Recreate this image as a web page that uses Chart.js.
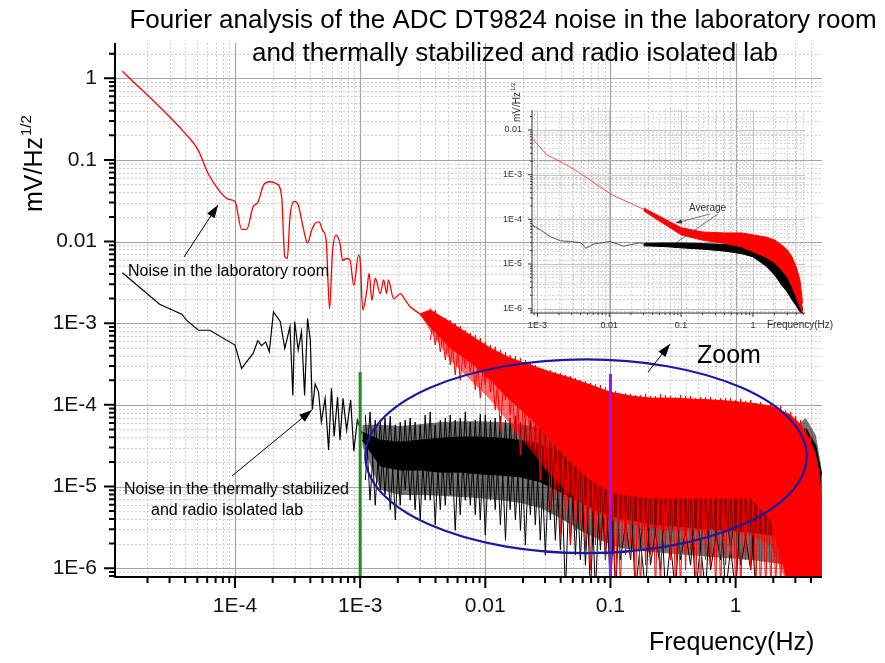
<!DOCTYPE html>
<html>
<head>
<meta charset="utf-8">
<script src="https://cdn.jsdelivr.net/npm/chart.js@4.4.1/dist/chart.umd.min.js"></script>
<style>
  html, body { margin: 0; padding: 0; background: #fff; }
  #wrap { position: relative; width: 885px; height: 663px; }
  #main { position: absolute; left: 0; top: 0; }
  #inset { position: absolute; left: 490px; top: 70px; }
</style>
</head>
<body>
<div id="wrap">
  <canvas id="main" width="885" height="663"></canvas>
  <canvas id="inset" width="350" height="270"></canvas>
</div>
<script>
// ---- main plot: low frequency part, [Hz, mV/Hz^1/2]
const redLow = [[1.26e-5,1.22],[3.9e-5,0.22],[5.1e-5,0.13],[6.1e-5,0.068],[7.4e-5,0.043],[8.8e-5,0.033],[1e-4,0.031],
  [1.13e-4,0.0141],[1.24e-4,0.0141],[1.4e-4,0.027],[1.52e-4,0.030],[1.69e-4,0.049],[1.9e-4,0.054],[2.15e-4,0.051],
  [2.36e-4,0.035],[2.5e-4,0.0065],[2.62e-4,0.0062],[2.75e-4,0.020],[2.97e-4,0.031],[3.2e-4,0.028],[3.5e-4,0.015],
  [3.8e-4,0.0096],[4.1e-4,0.0138],[4.37e-4,0.0167],[4.7e-4,0.0174],[5e-4,0.0138],[5.35e-4,0.0104],[5.7e-4,1.5e-3],
  [6e-4,7.1e-3],[6.4e-4,0.012],[6.9e-4,9.5e-3],[7.25e-4,5.9e-3],[7.8e-4,6.2e-3],[8.3e-4,5.9e-3],[8.9e-4,2.9e-3],
  [9.7e-4,6.8e-3],[1e-3,5.9e-3],[1.05e-3,1.45e-3],[1.13e-3,2.5e-3],[1.18e-3,4.1e-3],[1.24e-3,1.9e-3],[1.32e-3,3.55e-3],
  [1.45e-3,2.3e-3],[1.54e-3,3.4e-3],[1.63e-3,2.3e-3],[1.68e-3,3.4e-3],[1.85e-3,2e-3],[2.1e-3,2.3e-3],[2.3e-3,1.9e-3],
  [2.5e-3,1.6e-3],[3e-3,1.3e-3]];
const blackLow = [[1.26e-5,4.14e-3],[2.5e-5,1.71e-3],[3.75e-5,1.29e-3],[4.1e-5,1.09e-3],[5.1e-5,8.2e-4],[6.3e-5,8.2e-4],
  [1e-4,5.4e-4],[1.13e-4,2.8e-4],[1.4e-4,4.3e-4],[1.52e-4,6.1e-4],[1.63e-4,5.3e-4],[1.76e-4,5.9e-4],[1.88e-4,4.5e-4],
  [2.03e-4,1.38e-3],[2.3e-4,1.05e-3],[2.5e-4,4.9e-4],[2.75e-4,9.1e-4],[2.9e-4,1.3e-4],[3e-4,1.05e-3],[3.2e-4,4.7e-4],
  [3.4e-4,7.9e-4],[3.6e-4,1.3e-4],[3.8e-4,1.15e-3],[4e-4,6.2e-4],[4.15e-4,8.7e-5],[4.37e-4,1.8e-4],[4.65e-4,1.45e-4],
  [4.9e-4,6.2e-5],[5.25e-4,1.2e-4],[5.6e-4,2.8e-5],[5.9e-4,1.6e-4],[6.2e-4,4.1e-5],[6.6e-4,1.25e-4],[6.9e-4,3.7e-5],
  [7.3e-4,1.2e-4],[7.8e-4,4.9e-5],[8.4e-4,1.15e-4],[8.9e-4,2.7e-5],[9.5e-4,6.5e-5],[1.03e-3,4.5e-5]];

// ---- main plot: dense noise, solid core and the sparser fringe below it
const redBandFreq = [3.0e-3,3.63e-3,5.25e-3,7.59e-3,0.011,0.0158,0.0229,0.0331,0.0479,0.0692,0.1,0.145,0.209,0.302,0.437,0.631,0.912,1.32,1.91,2.75,3.31,3.84,4.29,4.61,4.88];
const redBandTop = [1.3e-3,1.45e-3,1.03e-3,7.1e-4,4.95e-4,3.74e-4,3.07e-4,2.52e-4,2.13e-4,1.75e-4,1.43e-4,1.28e-4,1.21e-4,1.21e-4,1.18e-4,1.15e-4,1.11e-4,1.05e-4,9.7e-5,7.5e-5,5.7e-5,3.9e-5,2.64e-5,1.59e-5,6.8e-6];
const redBandBottom = [1.3e-3,9e-4,4.95e-4,3.34e-4,2.01e-4,1.15e-4,6.9e-5,3.7e-5,2.0e-5,1.2e-5,8.6e-6,7.7e-6,7.2e-6,7.2e-6,7.2e-6,7.2e-6,7.2e-6,7.2e-6,3.9e-6,5e-7,5e-7,5e-7,5e-7,5e-7,5e-7];
const redFringeFloor = [1.3e-3,8e-4,3.53e-4,2.01e-4,1.15e-4,5.7e-5,2.8e-5,1.38e-5,7.9e-6,5.2e-6,3.9e-6,3.4e-6,3.1e-6,2.9e-6,2.9e-6,2.9e-6,2.77e-6,2.55e-6,1.92e-6,5e-7,5e-7,5e-7,5e-7,5e-7,5e-7];

const blackBandFreq = [1.04e-3,1.45e-3,2.09e-3,3.02e-3,4.37e-3,6.31e-3,9.12e-3,0.0132,0.0191,0.0275,0.0398,0.0575,0.0832,0.12,0.209,0.525,1.32,2.75,3.63,4.37,4.88];
const blackBandTop = [4.65e-5,3.7e-5,3.5e-5,3.7e-5,3.9e-5,4.03e-5,4.03e-5,3.9e-5,3.7e-5,3.3e-5,2.64e-5,2.0e-5,1.42e-5,1.14e-5,9.6e-6,9.1e-6,9.6e-6,3.2e-5,5.2e-5,3.2e-5,1.38e-5];
const blackBandBottom = [3.7e-5,1.78e-5,1.59e-5,1.59e-5,1.5e-5,1.5e-5,1.42e-5,1.38e-5,1.31e-5,1.14e-5,8.6e-6,6.45e-6,4.9e-6,4.1e-6,3.5e-6,3.1e-6,2.77e-6,2.34e-6,1.45e-6,5e-7,5e-7];
const blackFringeCeil = [5.7e-5,5.7e-5,5.5e-5,5.8e-5,6.15e-5,6.3e-5,6.3e-5,6.15e-5,5.8e-5,5.2e-5,4.15e-5,3.13e-5,2.23e-5,1.68e-5,1.38e-5,1.27e-5,1.34e-5,4.65e-5,6.9e-5,4.27e-5,1.59e-5];
const blackFringeFloor = [3.2e-5,9.1e-6,7.9e-6,7.9e-6,7.7e-6,7.45e-6,7.2e-6,6.8e-6,6.3e-6,5.45e-6,4.1e-6,2.9e-6,2.2e-6,1.77e-6,1.58e-6,1.41e-6,1.26e-6,1.09e-6,5e-7,5e-7,5e-7];

// ---- main plot: individual spikes at the edges of the dense noise
const redSpikeFreq = [3.63e-3,3.98e-3,4.37e-3,4.79e-3,5.25e-3,5.75e-3,6.31e-3,6.92e-3,7.59e-3,8.32e-3,9.12e-3,0.01,0.011,0.012,0.0132,0.0145,
  0.0158,0.0174,0.0191,0.0209,0.0229,0.0251,0.0275,0.0302,0.0331,0.0363,0.0398,0.0437,0.0479,0.0525,0.0575,0.0631,0.0692,0.0759,0.0832,0.0912,
  0.1,0.11,0.12,0.132,0.145,0.158,0.174,0.191,0.209,0.229,0.251,0.275,0.302,0.331,0.363,0.398,0.437,0.479,0.525,0.575,0.631,0.692,0.759,0.832,0.912,
  1,1.1,1.2,1.32,1.45,1.58,1.74,1.91,2.09,2.29,2.51,2.75,3.02,3.31,3.63,3.98];
const redSpikeVal = [1.53e-3,5.4e-4,1.22e-3,3.53e-4,1.09e-3,2.32e-4,9.2e-4,2.82e-4,7.6e-4,1.52e-4,6.6e-4,1.75e-4,5.4e-4,8.6e-5,4.69e-4,1.15e-4,
  4.07e-4,3.7e-5,3.74e-4,5.7e-5,3.34e-4,2.8e-5,2.82e-4,1.59e-5,2.67e-4,6.8e-6,2.45e-4,3.9e-6,2.25e-4,2.9e-6,2.01e-4,1.67e-6,1.85e-4,1.92e-6,1.75e-4,1.26e-6,
  1.52e-4,5e-7,1.39e-4,1.45e-6,1.36e-4,5e-7,1.32e-4,1.09e-6,1.28e-4,5e-7,1.36e-4,1.67e-6,1.28e-4,5e-7,1.32e-4,9.5e-7,1.28e-4,5e-7,1.25e-4,1.26e-6,1.25e-4,5e-7,1.21e-4,1.09e-6,1.21e-4,
  5e-7,1.18e-4,1.26e-6,1.15e-4,5e-7,1.08e-4,5e-7,1.02e-4,5e-7,9.7e-5,5e-7,8.2e-5,5e-7,6.5e-5,5e-7,4.27e-5];
const redSpikeVal2 = [6.2e-4,1.45e-3,4.43e-4,1.16e-3,3.07e-4,1.0e-3,2.01e-4,8.2e-4,2.52e-4,7.1e-4,1.21e-4,5.9e-4,1.43e-4,5.15e-4,4.9e-5,4.43e-4,
  7.5e-5,3.95e-4,2.43e-5,3.53e-4,3.2e-5,3.07e-4,1.2e-5,2.6e-4,5.2e-6,2.52e-4,2.55e-6,2.32e-4,1.92e-6,2.13e-4,3.4e-6,1.95e-4,9.5e-7,1.8e-4,2.2e-6,1.65e-4,
  1.09e-6,1.48e-4,5e-7,1.39e-4,1.92e-6,1.32e-4,5e-7,1.36e-4,1.45e-6,1.28e-4,5e-7,1.32e-4,1.26e-6,1.25e-4,5e-7,1.28e-4,1.67e-6,1.21e-4,5e-7,1.25e-4,1.09e-6,1.18e-4,5e-7,1.21e-4,1.45e-6,
  1.15e-4,5e-7,1.11e-4,9.5e-7,1.05e-4,5e-7,1.0e-4,5e-7,9.2e-5,5e-7,8.6e-5,5e-7,7.3e-5,5e-7,5.2e-5,5e-7];
const blackSpikeFreq = [1.1e-3,1.2e-3,1.32e-3,1.45e-3,1.58e-3,1.74e-3,1.91e-3,2.09e-3,2.29e-3,2.51e-3,2.75e-3,3.02e-3,3.31e-3,3.63e-3,3.98e-3,4.37e-3,
  4.79e-3,5.25e-3,5.75e-3,6.31e-3,6.92e-3,7.59e-3,8.32e-3,9.12e-3,0.01,0.011,0.012,0.0132,0.0145,0.0158,0.0174,0.0191,0.0209,0.0229,0.0251,0.0275,
  0.0302,0.0331,0.0363,0.0398,0.0437,0.0479,0.0525,0.0575,0.0631,0.0692,0.0759,0.0832,0.0912,0.1,0.11,0.12,
  0.145,0.158,0.191,0.209,0.251,0.275,0.331,0.363,0.437,0.479,0.575,0.631,0.759,0.832,1,1.1,1.32,1.45];
const blackSpikeVal = [7.5e-5,6.8e-6,6.5e-5,9.1e-6,6.9e-5,5.2e-6,5.7e-5,5.9e-6,6.5e-5,6.8e-6,6.15e-5,3.9e-6,7.5e-5,6.8e-6,5.7e-5,5.2e-6,
  6.9e-5,7.9e-6,6.5e-5,4.5e-6,8.2e-5,5.9e-6,6.5e-5,3.9e-6,7.5e-5,6.8e-6,6.9e-5,3.4e-6,6.5e-5,5.2e-6,7.3e-5,2.9e-6,6.5e-5,4.5e-6,5.7e-5,2.2e-6,
  4.9e-5,3.9e-6,4.27e-5,1.67e-6,3.7e-5,1.92e-6,2.8e-5,1.26e-6,2.43e-5,5e-7,1.83e-5,1.67e-6,1.59e-5,5e-7,1.2e-5,1.26e-6,
  9.1e-6,5e-7,7.9e-6,1.09e-6,7.9e-6,5e-7,7.9e-6,1.26e-6,6.8e-6,5e-7,6.8e-6,9.5e-7,5.9e-6,5e-7,5.9e-6,1.09e-6,5.2e-6,5e-7];
const blackSpikeVal2 = [1.2e-5,8.2e-5,5.9e-6,6.5e-5,7.9e-6,7.3e-5,3.9e-6,6.15e-5,9.1e-6,6.9e-5,5.2e-6,5.7e-5,6.8e-6,8.2e-5,3.4e-6,6.5e-5,
  5.9e-6,7.5e-5,2.9e-6,6.9e-5,6.8e-6,6.15e-5,4.5e-6,7.7e-5,2.55e-6,6.5e-5,5.2e-6,7.3e-5,2.2e-6,6.9e-5,3.9e-6,6.15e-5,1.92e-6,6.5e-5,3.4e-6,5.2e-5,
  1.45e-6,4.65e-5,2.2e-6,3.9e-5,5e-7,3.2e-5,1.45e-6,2.64e-5,1.09e-6,2.11e-5,5e-7,1.68e-5,1.26e-6,1.38e-5,5e-7,1.04e-5,
  1.26e-6,9.1e-6,5e-7,7.9e-6,9.5e-7,7.9e-6,5e-7,7.2e-6,1.09e-6,6.8e-6,5e-7,6.45e-6,1.26e-6,5.9e-6,5e-7,5.45e-6,9.5e-7,4.9e-6];

// ---- markers and the zoom ellipse
const greenMarker = [[1e-3,2.52e-4],[1e-3,5e-7]];
const purpleMarker = [[0.1,2.38e-4],[0.1,5e-7]];
const zoomEllipseFreq = [1.1e-3, 3.7];
const zoomEllipseVal = [1.53e-6, 3.6e-4];

// ---- inset (average spectra)
const insetRedLow = [[8.4e-4,6.5e-3],[1.36e-3,2.76e-3],[2.3e-3,1.8e-3],[3.97e-3,1.07e-3],[6.8e-3,5.9e-4],[0.011,3.5e-4],[0.0195,2.3e-4],[0.03,1.68e-4]];
const insetBlackLow = [[8.4e-4,7.5e-5],[1.1e-3,5.8e-5],[1.5e-3,4.1e-5],[2.1e-3,3.3e-5],[2.9e-3,3.2e-5],[4e-3,3e-5],[4.7e-3,2.25e-5],
  [6.1e-3,2.8e-5],[0.0103,3.2e-5],[0.0158,2.5e-5],[0.027,3e-5],[0.03,2.7e-5]];
const insetBandFreq = [0.03,0.06,0.1,0.2,0.4,0.7,1.0,1.5,2.0,2.5,3.0,3.5,4.0,4.5,4.9];
const insetRedTop = [1.8e-4,1.0e-4,6.5e-5,5.2e-5,4.96e-5,4.96e-5,4.48e-5,4.04e-5,3.46e-5,2.67e-5,2.06e-5,1.44e-5,8.6e-6,4.4e-6,1.35e-6];
const insetRedBottom = [1.55e-4,7.6e-5,4.5e-5,3.4e-5,2.9e-5,2.4e-5,1.87e-5,1.44e-5,1.06e-5,7.4e-6,5.1e-6,3.08e-6,1.84e-6,1.1e-6,8.0e-7];
const insetBlackTop = [2.9e-5,2.95e-5,2.95e-5,2.85e-5,2.75e-5,2.65e-5,2.5e-5,2.29e-5,1.87e-5,1.37e-5,9.5e-6,5.7e-6,3.4e-6,1.84e-6,9.3e-7];
const insetBlackBottom = [2.55e-5,2.45e-5,2.3e-5,2.15e-5,1.95e-5,1.7e-5,1.45e-5,9.1e-6,5.7e-6,3.4e-6,2.38e-6,1.57e-6,1.16e-6,8.5e-7,8.0e-7];

const FONT = "'Liberation Sans', Arial, sans-serif";

const pts = arr => arr.map(p => ({ x: p[0], y: p[1] }));
const zip = (xs, ys) => xs.map((x, i) => ({ x: x, y: ys[i] }));

function logTicks(min, max) {
  const out = [];
  for (let e = Math.floor(Math.log10(min)); e <= Math.ceil(Math.log10(max)); e++) {
    for (let m = 1; m < 10; m++) {
      const v = m * Math.pow(10, e);
      if (v >= min * 0.999 && v <= max * 1.001) out.push({ value: v, major: m === 1 });
    }
  }
  return out;
}
function fmt(v) {
  const e = Math.round(Math.log10(v));
  return e >= -2 ? Math.pow(10, e).toFixed(Math.max(0, -e)) : '1E' + e;
}
function arrow(ctx, x1, y1, x2, y2, len, half) {
  ctx.beginPath(); ctx.moveTo(x1, y1); ctx.lineTo(x2, y2); ctx.stroke();
  const a = Math.atan2(y2 - y1, x2 - x1);
  const bx = x2 - len * Math.cos(a), by = y2 - len * Math.sin(a);
  ctx.beginPath();
  ctx.moveTo(x2, y2);
  ctx.lineTo(bx + half * Math.sin(a), by - half * Math.cos(a));
  ctx.lineTo(bx - half * Math.sin(a), by + half * Math.cos(a));
  ctx.closePath(); ctx.fill();
}
function drawGrid(chart, minorColor, majorColor, majorWidth) {
  const { ctx, chartArea: a, scales: { x, y } } = chart;
  ctx.save();
  ctx.lineWidth = 1;
  ctx.strokeStyle = minorColor;
  ctx.setLineDash([2, 2]);
  ctx.beginPath();
  x.ticks.forEach(t => { if (!t.major) { const px = Math.round(x.getPixelForValue(t.value)) + 0.5; ctx.moveTo(px, a.top); ctx.lineTo(px, a.bottom); } });
  y.ticks.forEach(t => { if (!t.major) { const py = Math.round(y.getPixelForValue(t.value)) + 0.5; ctx.moveTo(a.left, py); ctx.lineTo(a.right, py); } });
  ctx.stroke();
  ctx.setLineDash([]);
  ctx.strokeStyle = majorColor;
  ctx.lineWidth = majorWidth;
  ctx.beginPath();
  x.ticks.forEach(t => { if (t.major) { const px = Math.round(x.getPixelForValue(t.value)) + 0.5; ctx.moveTo(px, a.top); ctx.lineTo(px, a.bottom); } });
  y.ticks.forEach(t => { if (t.major) { const py = Math.round(y.getPixelForValue(t.value)) + 0.5; ctx.moveTo(a.left, py); ctx.lineTo(a.right, py); } });
  ctx.stroke();
  ctx.restore();
}
function drawAxes(chart, color, width, majLen, minLen) {
  const { ctx, chartArea: a, scales: { x, y } } = chart;
  ctx.save();
  ctx.strokeStyle = color;
  ctx.lineWidth = width;
  ctx.beginPath();
  ctx.moveTo(a.left, a.top); ctx.lineTo(a.left, a.bottom); ctx.lineTo(a.right, a.bottom);
  x.ticks.forEach(t => { const px = x.getPixelForValue(t.value); ctx.moveTo(px, a.bottom); ctx.lineTo(px, a.bottom + (t.major ? majLen : minLen)); });
  y.ticks.forEach(t => { const py = y.getPixelForValue(t.value); ctx.moveTo(a.left, py); ctx.lineTo(a.left - (t.major ? majLen : minLen), py); });
  ctx.stroke();
  ctx.restore();
}

const mainDecor = {
  id: 'mainDecor',
  beforeDatasetsDraw(chart) { drawGrid(chart, '#cccccc', '#a4a4a4', 1.2); },
  afterDatasetsDraw(chart) {
    const { ctx, scales: { x, y } } = chart;
    drawAxes(chart, '#000', 2, 11, 6);
    ctx.save();
    // zoom ellipse
    const x1 = x.getPixelForValue(zoomEllipseFreq[0]), x2 = x.getPixelForValue(zoomEllipseFreq[1]);
    const y1 = y.getPixelForValue(zoomEllipseVal[0]), y2 = y.getPixelForValue(zoomEllipseVal[1]);
    ctx.strokeStyle = '#1a1aa0';
    ctx.lineWidth = 2.2;
    ctx.beginPath();
    ctx.ellipse((x1 + x2) / 2, (y1 + y2) / 2, Math.abs(x2 - x1) / 2, Math.abs(y2 - y1) / 2, 0, 0, Math.PI * 2);
    ctx.stroke();
    // annotations
    ctx.fillStyle = '#000';
    ctx.strokeStyle = '#000';
    ctx.lineWidth = 1;
    ctx.font = '16px ' + FONT;
    ctx.textAlign = 'left';
    ctx.textBaseline = 'alphabetic';
    ctx.fillText('Noise in the laboratory room', 128, 276);
    ctx.fillText('Noise in the thermally stabilized', 124, 494);
    ctx.fillText('and radio isolated lab', 151, 515);
    arrow(ctx, 184, 257, 218, 205, 13, 4.5);
    arrow(ctx, 232, 476, 312, 410, 13, 4.5);
    arrow(ctx, 648, 372, 670, 344, 13, 4.5);
    ctx.font = '25px ' + FONT;
    ctx.fillText('Zoom', 697, 363);
    ctx.restore();
  },
  afterDraw(chart) {
    const { ctx } = chart;
    ctx.save();
    ctx.fillStyle = '#000';
    ctx.textBaseline = 'alphabetic';
    ctx.textAlign = 'center';
    ctx.font = '26px ' + FONT;
    ctx.fillText('Fourier analysis of the ADC DT9824 noise in the laboratory room', 503, 28);
    ctx.fillText('and thermally stabilized and radio isolated lab', 515, 61);
    ctx.textAlign = 'left';
    ctx.font = '25px ' + FONT;
    ctx.fillText('Frequency(Hz)', 649, 650);
    ctx.translate(42, 212);
    ctx.rotate(-Math.PI / 2);
    ctx.fillText('mV/Hz', 0, 0);
    const w = ctx.measureText('mV/Hz').width;
    ctx.font = '15px ' + FONT;
    ctx.fillText('1/2', w + 1, -11);
    ctx.restore();
  }
};

function logAxis(min, max, size, tickLen, pad, fontSize, color, horizontal) {
  const ax = {
    type: 'logarithmic', min: min, max: max,
    afterBuildTicks: s => { s.ticks = logTicks(s.min, s.max); },
    grid: { drawOnChartArea: false, tickLength: tickLen, tickColor: 'rgba(0,0,0,0)' },
    border: { display: false },
    ticks: {
      autoSkip: false, maxRotation: 0, padding: pad, color: color,
      font: { family: FONT, size: fontSize },
      callback: (v, i, t) => (t[i].major ? fmt(v) : '')
    }
  };
  ax.afterFit = horizontal ? (s => { s.height = size; }) : (s => { s.width = size; });
  return ax;
}

const lineDs = (data, color, width, order, extra) => Object.assign({
  data: data, borderColor: color, backgroundColor: color, borderWidth: width,
  pointRadius: 0, fill: false, order: order, tension: 0
}, extra || {});

new Chart(document.getElementById('main'), {
  type: 'line',
  data: {
    datasets: [
      lineDs(pts(greenMarker), '#1e8c1e', 3, 0),                                   // 0
      lineDs(pts(purpleMarker), '#8c1cf5', 3, 0),                                  // 1
      lineDs(zip(redSpikeFreq, redSpikeVal), '#ff0000', 1, 1),                     // 2
      lineDs(zip(redSpikeFreq, redSpikeVal2), '#ff0000', 1, 1),                    // 3
      lineDs(zip(redBandFreq, redBandTop), '#ff0000', 1, 2, { fill: 5 }),          // 4
      lineDs(zip(redBandFreq, redBandBottom), '#ff0000', 1, 2,
        { fill: 6, backgroundColor: 'rgba(255,0,0,0.55)' }),                       // 5
      lineDs(zip(redBandFreq, redFringeFloor), 'rgba(0,0,0,0)', 0, 2),             // 6
      lineDs(pts(redLow), '#ff0000', 1.3, 2, { cubicInterpolationMode: 'monotone' }), // 7
      lineDs(zip(blackSpikeFreq, blackSpikeVal), '#000000', 1, 3),                 // 8
      lineDs(zip(blackSpikeFreq, blackSpikeVal2), '#000000', 1, 3),                // 9
      lineDs(zip(blackBandFreq, blackBandTop), '#000000', 1, 4, { fill: 11 }),     // 10
      lineDs(zip(blackBandFreq, blackBandBottom), '#000000', 1, 4,
        { fill: 12, backgroundColor: 'rgba(0,0,0,0.55)' }),                        // 11
      lineDs(zip(blackBandFreq, blackFringeFloor), 'rgba(0,0,0,0)', 0, 4),         // 12
      lineDs(zip(blackBandFreq, blackFringeCeil), 'rgba(0,0,0,0)', 0, 4,
        { fill: 10, backgroundColor: 'rgba(0,0,0,0.55)' }),                        // 13
      lineDs(pts(blackLow), '#000000', 1.2, 4)                                     // 14
    ]
  },
  options: {
    responsive: false,
    animation: false,
    layout: { padding: { left: 0, top: 43, right: 63, bottom: 0 } },
    plugins: { legend: { display: false }, tooltip: { enabled: false } },
    scales: {
      x: logAxis(1.1e-5, 4.9, 86, 10, 7, 21, '#111', true),
      y: logAxis(7.8e-7, 2.7, 115, 12, 6, 21, '#111', false)
    }
  },
  plugins: [mainDecor]
});

const insetDecor = {
  id: 'insetDecor',
  beforeDatasetsDraw(chart) { drawGrid(chart, '#d4d4d4', '#c4c4c4', 1); },
  afterDatasetsDraw(chart) {
    const { ctx } = chart;
    drawAxes(chart, '#333', 1, 4, 2);
    ctx.save();
    ctx.fillStyle = '#333';
    ctx.strokeStyle = '#555';
    ctx.lineWidth = 0.8;
    ctx.font = '10px ' + FONT;
    ctx.textBaseline = 'alphabetic';
    ctx.fillText('Average', 199, 141);
    arrow(ctx, 220, 144, 186, 153, 6, 2.2);
    ctx.beginPath(); ctx.moveTo(228, 144); ctx.lineTo(187, 172); ctx.stroke();
    ctx.fillText('Frequency(Hz)', 277, 258);
    ctx.translate(30, 52);
    ctx.rotate(-Math.PI / 2);
    ctx.fillText('mV/Hz', 0, 0);
    const w = ctx.measureText('mV/Hz').width;
    ctx.font = '6px ' + FONT;
    ctx.fillText('1/2', w + 1, -5);
    ctx.restore();
  }
};

new Chart(document.getElementById('inset'), {
  type: 'line',
  data: {
    datasets: [
      lineDs(pts(insetRedLow), '#ff3a3a', 0.9, 1),
      lineDs(zip(insetBandFreq, insetRedTop), '#ff0000', 1, 1, { fill: 2 }),
      lineDs(zip(insetBandFreq, insetRedBottom), '#ff0000', 1, 1),
      lineDs(pts(insetBlackLow), '#444444', 0.9, 2),
      lineDs(zip(insetBandFreq, insetBlackTop), '#000000', 1, 2, { fill: 5 }),
      lineDs(zip(insetBandFreq, insetBlackBottom), '#000000', 1, 2)
    ]
  },
  options: {
    responsive: false,
    animation: false,
    layout: { padding: { left: 0, top: 40, right: 35, bottom: 0 } },
    plugins: { legend: { display: false }, tooltip: { enabled: false } },
    scales: {
      x: logAxis(8.4e-4, 5.3, 27, 4, 3, 9, '#333', true),
      y: logAxis(8.0e-7, 0.028, 42, 4, 6, 9, '#333', false)
    }
  },
  plugins: [insetDecor]
});
</script>
</body>
</html>
